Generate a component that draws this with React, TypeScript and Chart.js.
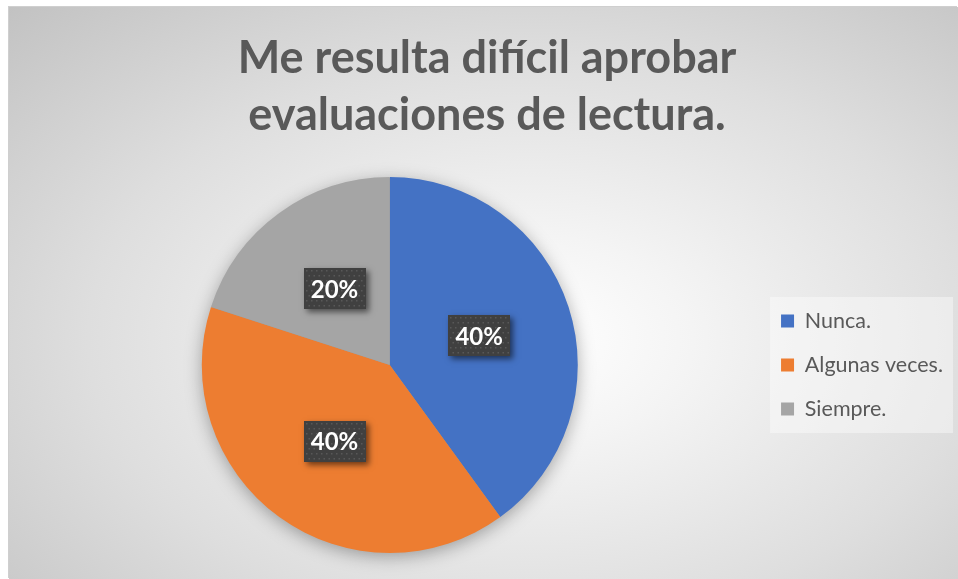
import React, { useEffect, useRef } from "react";
import { Chart, registerables } from "chart.js";

Chart.register(...registerables);

const categories = ["Nunca.", "Algunas veces.", "Siempre."];
const values = [40, 40, 20];
const colors = ["#4472C4", "#ED7D31", "#A5A5A5"];
const titleLines = ["Me resulta difícil aprobar", "evaluaciones de lectura."];

const FONT = "Lato, 'Open Sans', sans-serif";

export default function App() {
  const ref = useRef<HTMLCanvasElement>(null);

  useEffect(() => {
    const canvas = ref.current!;
    const total = values.reduce((a, b) => a + b, 0);

    const pieShadow = {
      id: "pieShadow",
      beforeDatasetsDraw(chart: any) {
        const arc = chart.getDatasetMeta(0).data[0];
        if (!arc) return;
        const { x, y, outerRadius } = arc.getProps(["x", "y", "outerRadius"], true);
        const ctx = chart.ctx;
        ctx.save();
        ctx.shadowColor = "rgba(0,0,0,0.35)";
        ctx.shadowBlur = 18;
        ctx.shadowOffsetX = 0;
        ctx.shadowOffsetY = 4;
        ctx.fillStyle = "#999999";
        ctx.beginPath();
        ctx.arc(x, y, outerRadius - 1, 0, Math.PI * 2);
        ctx.fill();
        ctx.restore();
      },
    };

    const legendBg = {
      id: "legendBg",
      beforeDraw(chart: any) {
        const lg = chart.legend;
        if (!lg || !lg.legendHitBoxes || !lg.legendHitBoxes.length) return;
        const hb = lg.legendHitBoxes;
        const first = hb[0];
        const last = hb[hb.length - 1];
        const left = first.left - 11;
        const top = first.top + first.height / 2 - 24;
        const bottom = last.top + last.height / 2 + 24;
        const right = chart.width - 5;
        const ctx = chart.ctx;
        ctx.save();
        ctx.fillStyle = "rgba(255,255,255,0.4)";
        ctx.fillRect(left, top, right - left, bottom - top);
        ctx.restore();
      },
    };

    const dataLabels = {
      id: "dataLabels",
      afterDatasetsDraw(chart: any) {
        const ctx = chart.ctx;
        const meta = chart.getDatasetMeta(0);
        meta.data.forEach((arc: any, i: number) => {
          const p = arc.tooltipPosition(true);
          const w = 62;
          const h = 41;
          const bx = Math.round(p.x - w / 2);
          const by = Math.round(p.y - h / 2);
          ctx.save();
          ctx.shadowColor = "rgba(0,0,0,0.55)";
          ctx.shadowBlur = 6;
          ctx.shadowOffsetX = 3;
          ctx.shadowOffsetY = 3;
          ctx.fillStyle = "#404040";
          ctx.fillRect(bx, by, w, h);
          ctx.restore();
          ctx.save();
          ctx.fillStyle = "rgba(255,255,255,0.13)";
          let row = 0;
          for (let yy = by + 2; yy < by + h - 1; yy += 5) {
            const off = row % 2 === 0 ? 2 : 4.5;
            for (let xx = bx + off; xx < bx + w - 1; xx += 5) {
              ctx.fillRect(xx, yy, 1.5, 1.5);
            }
            row++;
          }
          ctx.fillStyle = "#ffffff";
          ctx.font = `bold 24px ${FONT}`;
          ctx.textAlign = "center";
          ctx.textBaseline = "alphabetic";
          const pct = Math.round((values[i] / total) * 100) + "%";
          ctx.fillText(pct, p.x, p.y + 9);
          ctx.restore();
        });
      },
    };

    const chart = new Chart(canvas, {
      type: "pie",
      data: {
        labels: categories,
        datasets: [
          {
            data: values,
            backgroundColor: colors,
            borderWidth: 0,
          },
        ],
      },
      options: {
        responsive: false,
        maintainAspectRatio: false,
        animation: false,
        devicePixelRatio: 1,
        layout: { padding: { left: 12, right: 5, top: 0, bottom: 26 } },
        plugins: {
          tooltip: { enabled: false },
          title: {
            display: true,
            text: titleLines,
            color: "#595959",
            font: { family: FONT, size: 45, weight: "bold", lineHeight: 57 / 45 },
            padding: { top: 23, bottom: 33 },
          },
          legend: {
            display: true,
            position: "right",
            align: "center",
            fullSize: false,
            labels: {
              boxWidth: 13,
              boxHeight: 13,
              padding: 22.5,
              color: "#595959",
              font: { family: FONT, size: 21.5 },
            },
          },
        },
      },
      plugins: [legendBg, pieShadow, dataLabels],
    });
    return () => chart.destroy();
  }, []);

  return (
    <div
      style={{
        position: "fixed",
        left: 0,
        top: 0,
        width: 958,
        height: 579,
        background: "#ffffff",
        overflow: "hidden",
      }}
    >
      <div
        style={{
          position: "absolute",
          left: 9,
          top: 7,
          width: 949,
          height: 572,
          boxShadow: "-1px -1px 0 #cfcfcf",
          background:
            "radial-gradient(ellipse farthest-corner at 55% 58%, #ffffff 0%, #f4f4f4 22%, #dedede 60%, #c2c2c2 100%)",
        }}
      >
        <canvas ref={ref} width={949} height={572} style={{ display: "block", width: 949, height: 572 }} />
      </div>
    </div>
  );
}
